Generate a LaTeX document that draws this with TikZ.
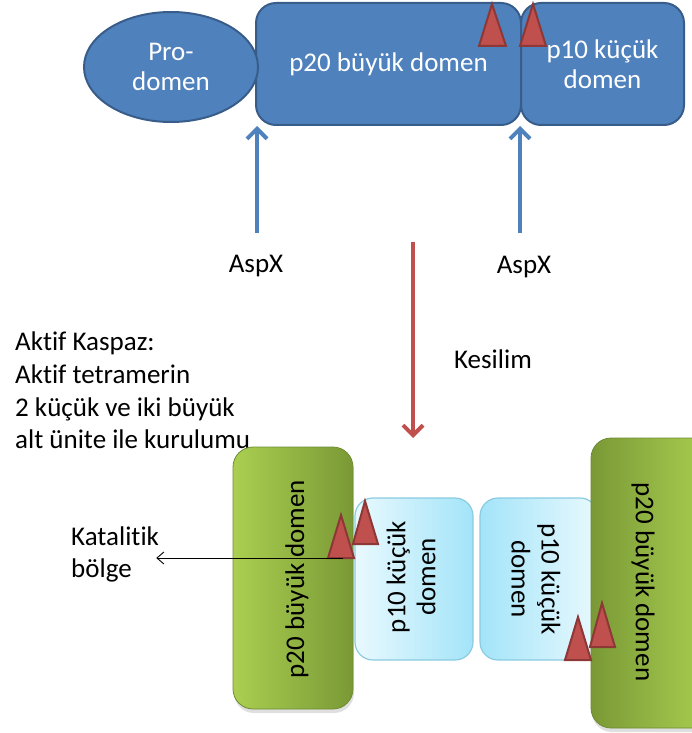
\documentclass[tikz,border=0pt]{standalone}
\usepackage{fontspec}
\setmainfont{Carlito}[Ligatures={NoCommon}]
\usetikzlibrary{arrows.meta,shadows,calc,shapes.geometric}

\definecolor{domblue}{HTML}{4F81BD}
\definecolor{domblueedge}{HTML}{385D8A}
\definecolor{cutred}{HTML}{C0504D}
\definecolor{cutrededge}{HTML}{8C3836}
\definecolor{greenlight}{HTML}{AACF50}
\definecolor{greendark}{HTML}{7A9936}
\definecolor{greenedge}{HTML}{6E8B33}
\definecolor{cyanlight}{HTML}{E9F9FE}
\definecolor{cyandeep}{HTML}{A3E4F9}
\definecolor{cyanedge}{HTML}{8ACBE0}

\begin{document}
\begin{tikzpicture}[x=1pt,y=-1pt,
  dom/.style={draw=domblueedge,line width=2pt,fill=domblue,text=white,
    font=\fontsize{27}{30}\selectfont,align=center,inner sep=0pt},
  cut/.style={draw=cutrededge,line width=2pt,fill=cutred,line join=miter},
  bluearrow/.style={draw=domblue,line width=4pt,
    -{Straight Barb[length=10pt,width=20pt]}},
  redarrow/.style={draw=cutred,line width=4pt,
    -{Straight Barb[length=10pt,width=20pt]}},
  lbl/.style={font=\fontsize{27}{33}\selectfont,inner sep=0pt,text=black},
  greenbox/.style={draw=greenedge,line width=0.8pt,rounded corners=20pt,
    inner sep=0pt,drop shadow={opacity=0.25,shadow xshift=1pt,shadow yshift=-4pt}},
  cyanbox/.style={draw=cyanedge,line width=1.2pt,rounded corners=18pt,inner sep=0pt},
  vtext/.style={font=\fontsize{27}{30}\selectfont,align=center,inner sep=0pt,text=black},
]
\useasboundingbox (0,0) rectangle (692,733);
\clip (0,0) rectangle (692,733);

% ---------- precursor: pro-domain, large and small domains ----------
\node[dom,rounded corners=20pt,minimum width=265pt,minimum height=122pt]
  (p20top) at (388.5,64) {p20 büyük domen};
\node[dom,rounded corners=20pt,minimum width=163pt,minimum height=122pt]
  (p10top) at (602.5,64) {p10 küçük\\domen};
\node[dom,ellipse,minimum width=174pt,minimum height=110pt]
  (pro) at (171,67) {Pro-\\domen};

% active-site markers
\draw[cut] (479,46) -- (492,4) -- (506,46) -- cycle;
\draw[cut] (520,46) -- (533,4) -- (546,46) -- cycle;

% cleavage sites
\coordinate (aspL) at (257,233);
\coordinate (aspR) at (520,233);
\draw[bluearrow] (aspL) -- (aspL |- p20top.south west);
\draw[bluearrow] (aspR) -- (aspR |- p20top.south east);
\node[lbl,anchor=base] (aspx1) at (256,272) {AspX};
\node[lbl,anchor=base] (aspx2) at (524,273) {AspX};

% processing step
\coordinate (cutTop) at (413,242);
\coordinate (cutEnd) at (413,438);
\draw[redarrow] (cutTop) -- (cutEnd);
\node[lbl,anchor=base] (kesilim) at (493,368) {Kesilim};

% description
\node[lbl,anchor=base west] (d1) at (15,350) {Aktif Kaspaz:};
\node[lbl,anchor=base west] (d2) at (15,383) {Aktif tetramerin};
\node[lbl,anchor=base west] (d3) at (15,416) {2 küçük ve iki büyük};
\node[lbl,anchor=base west] (d4) at (15,448) {alt ünite ile kurulumu};

% ---------- active tetramer ----------
\node[cyanbox,left color=cyanlight,right color=cyandeep,
  minimum width=118pt,minimum height=162pt] (p10a) at (414,579) {};
\node[cyanbox,left color=cyandeep,right color=cyanlight,
  minimum width=118pt,minimum height=162pt] (p10b) at (539,579) {};
\node[greenbox,left color=greenlight,right color=greendark,
  minimum width=120pt,minimum height=262pt] (p20a) at (293,578) {};
\node[greenbox,left color=greendark,right color=greenlight,
  minimum width=121pt,minimum height=290pt] (p20b) at (651.5,583) {};

\node[vtext,rotate=90] (p20aText) at (297,579) {p20 büyük domen};
\node[vtext,rotate=-90] (p20bText) at (643,582) {p20 büyük domen};
\node[vtext,rotate=90] (p10aText) at (411,577) {p10 küçük\\domen};
\node[vtext,rotate=-90] (p10bText) at (536,579) {p10 küçük\\domen};

% active-site markers
\draw[cut] (353,544) -- (365,501) -- (378,544) -- cycle;
\draw[cut] (328,558) -- (341,515) -- (354,558) -- cycle;
\draw[cut] (590,647) -- (602,603) -- (615,647) -- cycle;
\draw[cut] (565,660) -- (578,617) -- (591,660) -- cycle;

% catalytic site
\node[lbl,anchor=base west] (kat1) at (71,545) {Katalitik};
\node[lbl,anchor=base west] (kat2) at (71,577) {bölge};
\coordinate (katStart) at (343,558);
\draw[line width=0.9pt,-{Straight Barb[length=7pt,width=12pt]}]
  (katStart) -- ($(katStart -| kat1.east)+(-3,0)$);
\end{tikzpicture}
\end{document}
